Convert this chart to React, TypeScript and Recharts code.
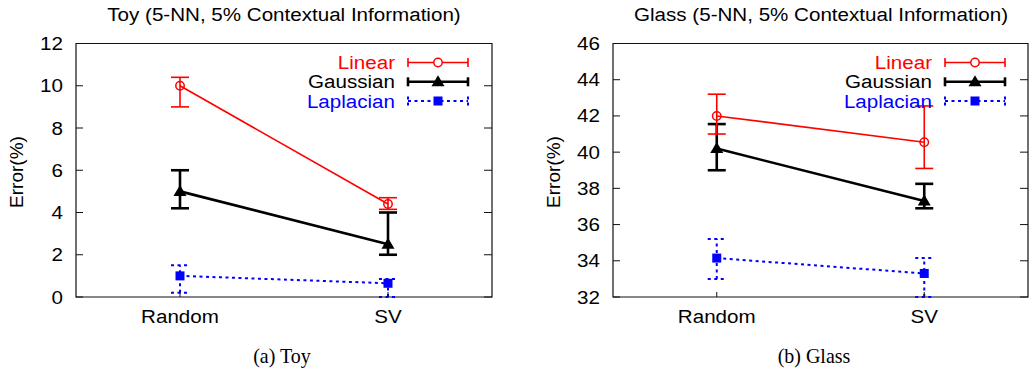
import React from 'react';
import { ComposedChart, Line, XAxis, YAxis, ErrorBar, ReferenceArea } from 'recharts';

// ---------- data ----------
const categories = ['Random', 'SV'];
const categoryPos = [1, 2];

const toyTicks = [0, 2, 4, 6, 8, 10, 12];
const toyLinear = [10.0, 4.4];
const toyLinearLow = [9.0, 4.15];
const toyLinearHigh = [10.4, 4.7];
const toyGaussian = [5.0, 2.5];
const toyGaussianLow = [4.2, 2.0];
const toyGaussianHigh = [6.0, 4.0];
const toyLaplacian = [1.0, 0.65];
const toyLaplacianLow = [0.2, 0.0];
const toyLaplacianHigh = [1.5, 0.85];

const glassTicks = [32, 34, 36, 38, 40, 42, 44, 46];
const glassLinear = [42.0, 40.55];
const glassLinearLow = [41.0, 39.1];
const glassLinearHigh = [43.2, 42.55];
const glassGaussian = [40.2, 37.3];
const glassGaussianLow = [39.0, 36.9];
const glassGaussianHigh = [41.55, 38.25];
const glassLaplacian = [34.15, 33.3];
const glassLaplacianLow = [33.0, 32.0];
const glassLaplacianHigh = [35.2, 34.15];

const seriesNames = ['Linear', 'Gaussian', 'Laplacian'];

// ---------- styles ----------
const RED = '#ff0000';
const BLACK = '#000000';
const BLUE = '#0000ff';
const SANS = '"Liberation Sans", Arial, Helvetica, sans-serif';
const SERIF = '"Liberation Serif", "Times New Roman", serif';
const FS = 17.6;
const SX = 1.17;

function buildRows(
  lin: number[], linLo: number[], linHi: number[],
  gau: number[], gauLo: number[], gauHi: number[],
  lap: number[], lapLo: number[], lapHi: number[]
) {
  return categoryPos.map((x, i) => ({
    x,
    linear: lin[i],
    linearErr: [lin[i] - linLo[i], linHi[i] - lin[i]],
    gaussian: gau[i],
    gaussianErr: [gau[i] - gauLo[i], gauHi[i] - gau[i]],
    laplacian: lap[i],
    laplacianErr: [lap[i] - lapLo[i], lapHi[i] - lap[i]],
  }));
}

const toyRows = buildRows(
  toyLinear, toyLinearLow, toyLinearHigh,
  toyGaussian, toyGaussianLow, toyGaussianHigh,
  toyLaplacian, toyLaplacianLow, toyLaplacianHigh
);
const glassRows = buildRows(
  glassLinear, glassLinearLow, glassLinearHigh,
  glassGaussian, glassGaussianLow, glassGaussianHigh,
  glassLaplacian, glassLaplacianLow, glassLaplacianHigh
);

// ---------- markers ----------
const circleDot = (p: any) => (
  <circle key={`c${p.index}`} cx={p.cx} cy={p.cy} r={4.2} fill="none" stroke={RED} strokeWidth={1.5} />
);
const triDot = (p: any) => (
  <path
    key={`t${p.index}`}
    d={`M${p.cx},${p.cy - 6.5} L${p.cx + 6.5},${p.cy + 4.5} L${p.cx - 6.5},${p.cy + 4.5} Z`}
    fill={BLACK}
  />
);
const squareDot = (p: any) => (
  <rect key={`s${p.index}`} x={p.cx - 4.5} y={p.cy - 4.5} width={9} height={9} fill={BLUE} />
);

// ---------- one panel ----------
type PanelProps = {
  left: number;
  width: number;
  plotLeft: number; // inside svg
  rows: any[];
  ticks: number[];
  domain: [number, number];
};

const HEIGHT = 330;
const PLOT_TOP = 43.5;
const PLOT_BOTTOM = 297;

function Panel({ left, width, plotLeft, rows, ticks, domain }: PanelProps) {
  const marginLeft = 8;
  const yAxisWidth = plotLeft - marginLeft;
  const plotRight = left === 0 ? 492 : width - 1;
  const marginRight = width - plotRight;

  const YTick = (props: any) => {
    const { y, payload } = props;
    return (
      <g>
        <line x1={plotLeft} x2={plotLeft + 7} y1={y} y2={y} stroke="#111" strokeWidth={1} />
        <line x1={plotRight - 8} x2={plotRight} y1={y} y2={y} stroke="#111" strokeWidth={1} />
        <text
          transform={`translate(${plotLeft - 13},${y + 6.5}) scale(${SX},1)`}
          textAnchor="end"
          fontSize={FS}
          fontFamily={SANS}
          fill="#000"
        >
          {payload.value}
        </text>
      </g>
    );
  };

  const XTick = (props: any) => {
    const { x, payload } = props;
    const idx = categoryPos.indexOf(payload.value);
    return (
      <g>
        <line x1={x} x2={x} y1={PLOT_BOTTOM} y2={PLOT_BOTTOM - 5} stroke="#111" strokeWidth={1} />
        <text
          transform={`translate(${x},${PLOT_BOTTOM + 25.5}) scale(${SX},1)`}
          textAnchor="middle"
          fontSize={FS}
          fontFamily={SANS}
          fill="#000"
        >
          {idx >= 0 ? categories[idx] : ''}
        </text>
      </g>
    );
  };

  return (
    <div style={{ position: 'absolute', left, top: 0 }}>
      <ComposedChart
        width={width}
        height={HEIGHT}
        data={rows}
        margin={{ top: PLOT_TOP, right: marginRight, left: marginLeft, bottom: HEIGHT - PLOT_BOTTOM - 30 }}
      >
        <XAxis
          type="number"
          dataKey="x"
          domain={[0.5, 2.5]}
          ticks={categoryPos}
          height={30}
          axisLine={false}
          tickLine={false}
          tick={XTick}
          interval={0}
          allowDataOverflow
        />
        <YAxis
          type="number"
          domain={domain}
          ticks={ticks}
          width={yAxisWidth}
          axisLine={false}
          tickLine={false}
          tick={YTick}
          interval={0}
          allowDataOverflow
        />
        <ReferenceArea
          x1={0.5}
          x2={2.5}
          y1={domain[0]}
          y2={domain[1]}
          fill="none"
          fillOpacity={0}
          stroke="#111"
          strokeWidth={1.2}
          ifOverflow="visible"
        />
        <Line
          type="linear"
          dataKey="laplacian"
          stroke={BLUE}
          strokeWidth={2}
          strokeDasharray="3 3.5"
          dot={squareDot}
          activeDot={false}
          isAnimationActive={false}
          legendType="none"
        >
          <ErrorBar dataKey="laplacianErr" direction="y" width={9} stroke={BLUE} strokeWidth={2} strokeDasharray="3 3.5" />
        </Line>
        <Line
          type="linear"
          dataKey="gaussian"
          stroke={BLACK}
          strokeWidth={2.6}
          dot={triDot}
          activeDot={false}
          isAnimationActive={false}
          legendType="none"
        >
          <ErrorBar dataKey="gaussianErr" direction="y" width={9} stroke={BLACK} strokeWidth={2.6} />
        </Line>
        <Line
          type="linear"
          dataKey="linear"
          stroke={RED}
          strokeWidth={1.6}
          dot={circleDot}
          activeDot={false}
          isAnimationActive={false}
          legendType="none"
        >
          <ErrorBar dataKey="linearErr" direction="y" width={9} stroke={RED} strokeWidth={1.6} />
        </Line>
      </ComposedChart>
    </div>
  );
}

// ---------- overlay texts / legend ----------
function LegendBlock({ textRight, x0, x1 }: { textRight: number; x0: number; x1: number }) {
  const rowsY = [62.5, 81.8, 101];
  const colors = [RED, BLACK, BLUE];
  const widths = [1.6, 2.6, 2];
  const mid = (x0 + x1) / 2;
  return (
    <g>
      {seriesNames.map((name, i) => {
        const y = rowsY[i];
        const c = colors[i];
        return (
          <g key={name}>
            <text
              transform={`translate(${textRight},${y + 6.5}) scale(${SX},1)`}
              textAnchor="end"
              fontSize={FS}
              fontFamily={SANS}
              fill={c}
            >
              {name}
            </text>
            <line
              x1={x0}
              x2={x1}
              y1={y}
              y2={y}
              stroke={c}
              strokeWidth={widths[i]}
              strokeDasharray={i === 2 ? '3 3.5' : undefined}
            />
            <line x1={x0} x2={x0} y1={y - 4.5} y2={y + 4.5} stroke={c} strokeWidth={widths[i]} strokeDasharray={i === 2 ? '3 3' : undefined} />
            <line x1={x1} x2={x1} y1={y - 4.5} y2={y + 4.5} stroke={c} strokeWidth={widths[i]} strokeDasharray={i === 2 ? '3 3' : undefined} />
            {i === 0 && <circle cx={mid} cy={y} r={4.2} fill="#fff" stroke={RED} strokeWidth={1.5} />}
            {i === 1 && <path d={`M${mid},${y - 6.5} L${mid + 6.5},${y + 4.5} L${mid - 6.5},${y + 4.5} Z`} fill={BLACK} />}
            {i === 2 && <rect x={mid - 4.5} y={y - 4.5} width={9} height={9} fill={BLUE} />}
          </g>
        );
      })}
    </g>
  );
}

export default function App() {
  return (
    <div style={{ position: 'absolute', left: 0, top: 0, width: 1029, height: 384, background: '#fff' }}>
      <Panel left={0} width={510} plotLeft={76} rows={toyRows} ticks={toyTicks} domain={[0, 12]} />
      <Panel left={520} width={509} plotLeft={93} rows={glassRows} ticks={glassTicks} domain={[32, 46]} />
      <svg
        width={1029}
        height={384}
        style={{ position: 'absolute', left: 0, top: 0, pointerEvents: 'none' }}
      >
        <text transform={`translate(284,21) scale(${SX},1)`} textAnchor="middle" fontSize={FS} fontFamily={SANS} fill="#000">
          Toy (5-NN, 5% Contextual Information)
        </text>
        <text transform={`translate(821,21) scale(${SX},1)`} textAnchor="middle" fontSize={FS} fontFamily={SANS} fill="#000">
          Glass (5-NN, 5% Contextual Information)
        </text>
        <text transform="translate(23,172) rotate(-90)" textAnchor="middle" fontSize={19} fontFamily={SANS} fill="#000">
          Error(%)
        </text>
        <text transform="translate(560,172) rotate(-90)" textAnchor="middle" fontSize={19} fontFamily={SANS} fill="#000">
          Error(%)
        </text>
        <LegendBlock textRight={395} x0={408} x1={468} />
        <LegendBlock textRight={932} x0={945} x1={1005} />
        <text transform="translate(282,363) scale(0.93,1)" textAnchor="middle" fontSize={21.5} fontFamily={SERIF} fill="#000">
          (a) Toy
        </text>
        <text transform="translate(814,363) scale(0.93,1)" textAnchor="middle" fontSize={21.5} fontFamily={SERIF} fill="#000">
          (b) Glass
        </text>
      </svg>
    </div>
  );
}
